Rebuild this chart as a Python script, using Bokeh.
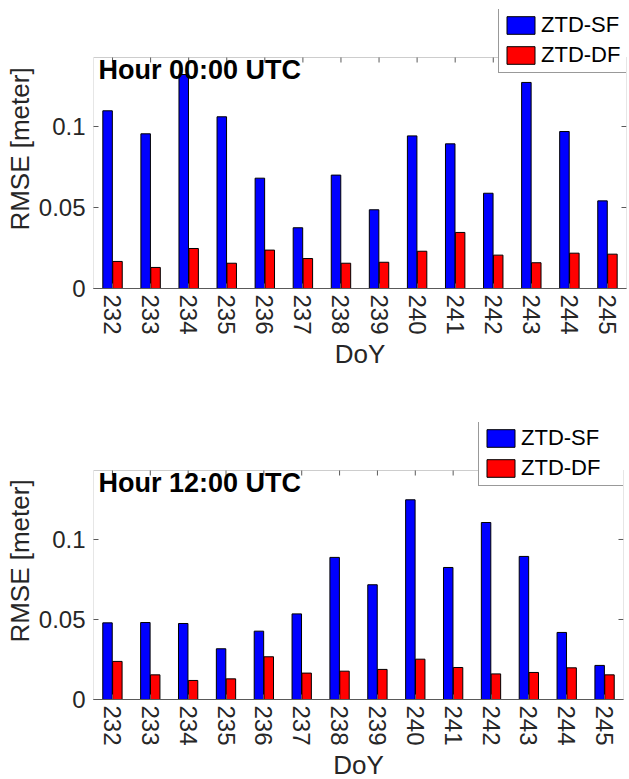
import math
from bokeh.plotting import figure
from bokeh.models import (Range1d, FixedTicker, Legend, LegendItem, BoxAnnotation,
                          Label, NumeralTickFormatter, ColumnDataSource)
from bokeh.transform import dodge
from bokeh.layouts import column
from bokeh.embed import file_html
from bokeh.resources import INLINE

# ---------------- data ----------------
days = [232, 233, 234, 235, 236, 237, 238, 239, 240, 241, 242, 243, 244, 245]
sf_00 = [0.1097, 0.0955, 0.1321, 0.1060, 0.0681, 0.0375, 0.0700,
         0.0486, 0.0942, 0.0893, 0.0588, 0.1272, 0.0969, 0.0541]
df_00 = [0.0167, 0.0130, 0.0247, 0.0156, 0.0237, 0.0185, 0.0156,
         0.0162, 0.0230, 0.0346, 0.0206, 0.0159, 0.0218, 0.0212]
sf_12 = [0.0479, 0.0481, 0.0475, 0.0317, 0.0427, 0.0535, 0.0888,
         0.0717, 0.1248, 0.0825, 0.1106, 0.0894, 0.0419, 0.0213]
df_12 = [0.0238, 0.0154, 0.0119, 0.0129, 0.0267, 0.0165, 0.0177,
         0.0188, 0.0252, 0.0200, 0.0160, 0.0169, 0.0198, 0.0154]
y_ticks = [0, 0.05, 0.1]
series_names = ["ZTD-SF", "ZTD-DF"]
titles = ["Hour 00:00 UTC", "Hour 12:00 UTC"]

FONT = "Liberation Sans"
AXC = "#5a5a5a"
TXC = "#262626"


def make_panel(sf, df, title, box_top, fw, box_px, overhang, bl, br, bt, bb,
               leg_loc, leg_label_width):
    src = ColumnDataSource(dict(day=days, sf=sf, df=df))
    x0, x1 = days[0] - 0.5, days[-1] + 0.5
    y_end = box_top * (box_px + overhang) / box_px
    p = figure(output_backend="svg", toolbar_location=None,
               frame_width=fw, frame_height=box_px + overhang,
               min_border_left=bl, min_border_right=br,
               min_border_top=bt, min_border_bottom=bb,
               x_range=Range1d(x0, x1), y_range=Range1d(0, y_end))
    p.xgrid.visible = False
    p.ygrid.visible = False
    p.outline_line_color = None
    p.background_fill_color = "white"
    p.border_fill_color = "white"

    r1 = p.vbar(x=dodge("day", -0.13, range=p.x_range), top="sf", width=0.25,
                source=src, fill_color="#0000ff", line_color="black", line_width=1)
    r2 = p.vbar(x=dodge("day", 0.13, range=p.x_range), top="df", width=0.25,
                source=src, fill_color="#ff0000", line_color="black", line_width=1)

    # inward tick marks on the top and right edges of the axes box
    p.ray(x=days, y=[box_top] * len(days), length=5, length_units="screen",
          angle=-math.pi / 2, line_color=AXC, line_width=1)
    p.ray(x=[x1] * len(y_ticks), y=y_ticks, length=5, length_units="screen",
          angle=math.pi, line_color=AXC, line_width=1)

    # axes box
    p.add_layout(BoxAnnotation(left=x0, right=x1, bottom=0, top=box_top,
                               fill_alpha=0, line_color=AXC, line_width=1))

    xa = p.xaxis[0]
    xa.ticker = FixedTicker(ticks=days)
    xa.major_label_orientation = -math.pi / 2
    xa.major_label_text_font = FONT
    xa.major_label_text_font_size = "24px"
    xa.major_label_text_color = TXC
    xa.major_label_standoff = 6
    xa.axis_label = "DoY"
    xa.axis_label_text_font = FONT
    xa.axis_label_text_font_size = "26px"
    xa.axis_label_text_font_style = "normal"
    xa.axis_label_text_color = TXC
    xa.axis_label_standoff = 1
    xa.major_tick_in = 5
    xa.major_tick_out = 0
    xa.minor_tick_line_color = None
    xa.axis_line_color = AXC
    xa.major_tick_line_color = AXC

    ya = p.yaxis[0]
    ya.ticker = FixedTicker(ticks=y_ticks)
    ya.formatter = NumeralTickFormatter(format="0.[00]")
    ya.major_label_text_font = FONT
    ya.major_label_text_font_size = "24px"
    ya.major_label_text_color = TXC
    ya.major_label_standoff = 8
    ya.axis_label = "RMSE [meter]"
    ya.axis_label_text_font = FONT
    ya.axis_label_text_font_size = "26px"
    ya.axis_label_text_font_style = "normal"
    ya.axis_label_text_color = TXC
    ya.axis_label_standoff = 1
    ya.major_tick_in = 5
    ya.major_tick_out = 0
    ya.minor_tick_line_color = None
    ya.axis_line_color = None
    ya.major_tick_line_color = AXC

    lab = Label(x=x0, y=box_top, x_offset=5, y_offset=3, text=title,
                text_baseline="top", text_align="left",
                text_font=FONT, text_font_style="bold", text_font_size="27px",
                text_color="black")
    p.add_layout(lab)

    leg = Legend(items=[LegendItem(label=series_names[0], renderers=[r1]),
                        LegendItem(label=series_names[1], renderers=[r2])],
                 location=leg_loc, orientation="vertical",
                 glyph_width=35, glyph_height=22, label_standoff=3,
                 label_text_font=FONT, label_text_font_size="22px",
                 label_text_color="black", label_height=22,
                 label_width=leg_label_width,
                 padding=4, spacing=4, margin=0,
                 border_line_color="#333333", border_line_width=1,
                 background_fill_color="white", background_fill_alpha=1.0)
    p.add_layout(leg, "center")
    return p


p1 = make_panel(sf_00, df_00, titles[0], 0.1426, 533, 231, 48, 93, 3, 9, 109,
                (405, 215), 82)
p2 = make_panel(sf_12, df_12, titles[1], 0.1431, 530, 229, 48, 92, 7, 25, 80,
                (385, 213), 99)

layout = column(p1, p2, spacing=0)
open("out.html", "w").write(file_html(layout, INLINE))
